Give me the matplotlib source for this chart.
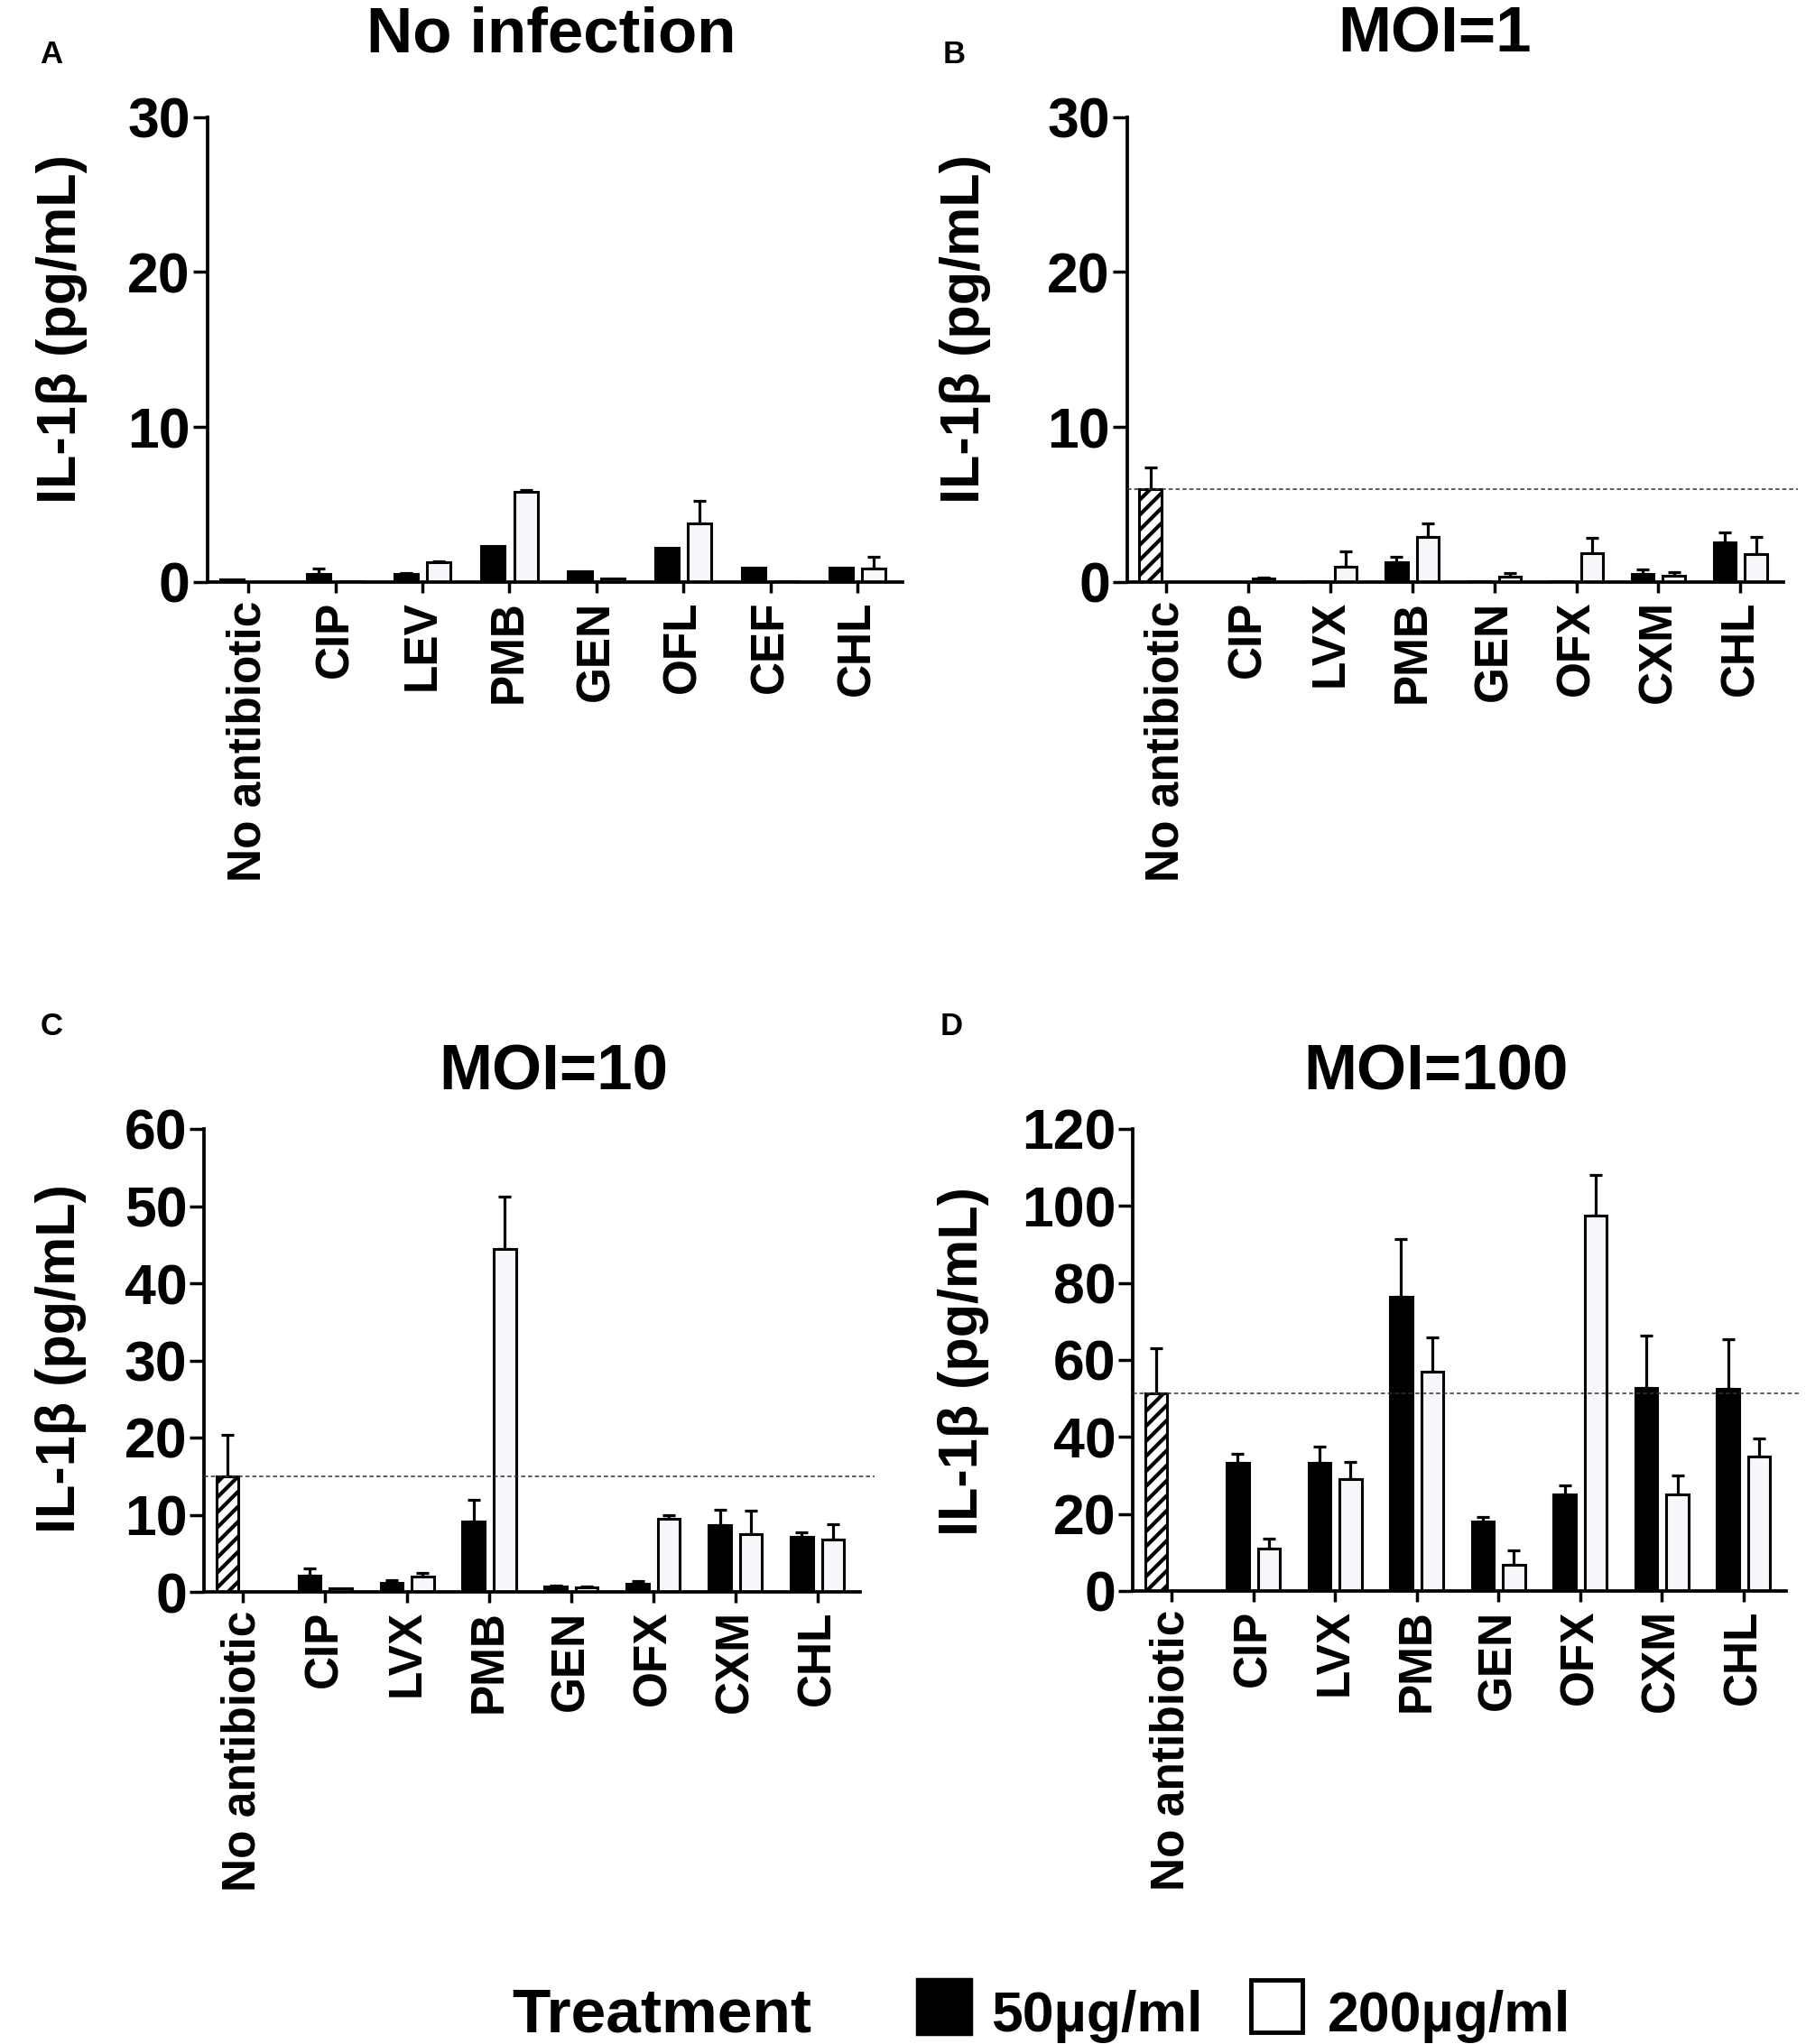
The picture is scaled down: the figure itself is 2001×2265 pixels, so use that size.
import matplotlib
matplotlib.use('Agg')
import matplotlib.pyplot as plt
import numpy as np
from matplotlib import font_manager as fm
from matplotlib.patches import Rectangle

# ---------------- data ----------------
cats_A = ['No antibiotic', 'CIP', 'LEV', 'PMB', 'GEN', 'OFL', 'CEF', 'CHL']
cats_BCD = ['No antibiotic', 'CIP', 'LVX', 'PMB', 'GEN', 'OFX', 'CXM', 'CHL']

# Panel A (no infection): all 8 groups have 50 / 200 bars
A_50 = [0.2, 0.55, 0.55, 2.3, 0.7, 2.2, 0.95, 0.95]
A_50_err = [0.0, 0.3, 0.05, 0.0, 0.0, 0.0, 0.0, 0.0]
A_200 = [0.0, 0.08, 1.3, 5.8, 0.25, 3.8, 0.08, 0.9]
A_200_err = [0.0, 0.0, 0.05, 0.12, 0.0, 1.45, 0.0, 0.75]

# Panels B-D: control (no antibiotic, hatched) + 7 antibiotics
B_ctrl, B_ctrl_err = 6.0, 1.4
B_50 = [0.0, 0.06, 1.3, 0.06, 0.06, 0.55, 2.55]
B_50_err = [0.0, 0.0, 0.35, 0.0, 0.0, 0.28, 0.63]
B_200 = [0.25, 1.0, 2.9, 0.35, 1.85, 0.4, 1.8]
B_200_err = [0.05, 0.95, 0.9, 0.25, 1.0, 0.23, 1.1]

C_ctrl, C_ctrl_err = 15.0, 5.4
C_50 = [2.1, 1.2, 9.1, 0.65, 1.05, 8.7, 7.1]
C_50_err = [0.95, 0.3, 2.8, 0.15, 0.3, 2.0, 0.6]
C_200 = [0.45, 2.0, 44.4, 0.6, 9.5, 7.5, 6.8]
C_200_err = [0.0, 0.5, 6.8, 0.1, 0.4, 3.0, 2.0]

D_ctrl, D_ctrl_err = 51.4, 11.6
D_50 = [33.2, 33.2, 76.4, 18.1, 25.0, 52.8, 52.5]
D_50_err = [2.4, 4.2, 15.1, 1.2, 2.4, 13.6, 13.0]
D_200 = [11.1, 29.0, 57.0, 6.7, 97.5, 25.1, 35.0]
D_200_err = [2.4, 4.6, 8.9, 3.8, 10.6, 4.8, 4.6]

titles = ['No infection', 'MOI=1', 'MOI=10', 'MOI=100']
letters = ['A', 'B', 'C', 'D']
ylabel = 'IL-1β (pg/mL)'
legend_title = 'Treatment'
legend_labels = ['50µg/ml', '200µg/ml']

# ---------------- style ----------------
W, H, DPI = 2001, 2265, 100
names = {f.name for f in fm.fontManager.ttflist}
MAIN = 'Liberation Sans' if 'Liberation Sans' in names else 'DejaVu Sans'
HAS_NARROW = 'Liberation Sans Narrow' in names
NARROW = 'Liberation Sans Narrow' if HAS_NARROW else MAIN

plt.rcParams['font.family'] = [MAIN, 'DejaVu Sans']
plt.rcParams['hatch.linewidth'] = 3.0
WHITE = '#F8F8FC'

fig = plt.figure(figsize=(W / DPI, H / DPI), dpi=DPI)


def add_ax(l, r, t, b):
    return fig.add_axes([l / W, 1 - b / H, (r - l) / W, (b - t) / H])


def px(x, y):
    return x / W, 1 - y / H


OFF, BW = 0.19, 0.27
ELW = 2.3


def errbars(ax, xs, vals, errs):
    xs = np.asarray(xs, float)
    vals = np.asarray(vals, float)
    errs = np.asarray(errs, float)
    m = errs > 0
    if m.any():
        ax.errorbar(xs[m], vals[m], yerr=[np.zeros(m.sum()), errs[m]], fmt='none',
                    ecolor='black', elinewidth=ELW, capsize=5, capthick=ELW, zorder=1)


def panel(ax, cats, v50, e50, v200, e200, ymax, ystep, ctrl=None, ctrl_err=None):
    x = np.arange(len(cats))
    if ctrl is not None:
        ax.bar(0 - OFF, ctrl, BW, facecolor='white', edgecolor='black', hatch='//',
               linewidth=2.2, zorder=2)
        errbars(ax, [0 - OFF], [ctrl], [ctrl_err])
        xs = x[1:]
    else:
        xs = x
    ax.bar(xs - OFF, v50, BW, color='black', edgecolor='black', linewidth=2.2, zorder=2)
    ax.bar(xs + OFF, v200, BW, facecolor=WHITE, edgecolor='black', linewidth=2.2, zorder=2)
    errbars(ax, xs - OFF, v50, e50)
    errbars(ax, xs + OFF, v200, e200)
    if ctrl is not None:
        ax.plot([-0.475, 7.7], [ctrl, ctrl], ls=(0, (3, 2)), lw=1.1, color='#333333',
                clip_on=False, zorder=5)
    ax.set_xlim(-0.475, 7.52)
    ax.set_ylim(0, ymax)
    ax.set_yticks(np.arange(0, ymax + 0.1, ystep))
    ax.set_xticks(x)
    ax.set_xticklabels(cats, rotation=90, fontsize=37, fontweight='bold', va='top', ha='center')
    for lab in ax.get_yticklabels():
        lab.set_fontsize(45)
        lab.set_fontweight('bold')
    ax.spines['top'].set_visible(False)
    ax.spines['right'].set_visible(False)
    for s in ('left', 'bottom'):
        ax.spines[s].set_linewidth(2.7)
    ax.tick_params(axis='y', direction='out', length=11.5, width=2.5, pad=2)
    ax.tick_params(axis='x', direction='out', length=8.6, width=2.5, pad=6)


axA = add_ax(229.6, 1000, 129.5, 645)
axB = add_ax(1248.7, 1975.7, 129.5, 645)
axC = add_ax(226, 953, 1251, 1764)
axD = add_ax(1255, 1979, 1251, 1763)

panel(axA, cats_A, A_50, A_50_err, A_200, A_200_err, 30, 10)
panel(axB, cats_BCD, B_50, B_50_err, B_200, B_200_err, 30, 10, B_ctrl, B_ctrl_err)
panel(axC, cats_BCD, C_50, C_50_err, C_200, C_200_err, 60, 10, C_ctrl, C_ctrl_err)
panel(axD, cats_BCD, D_50, D_50_err, D_200, D_200_err, 120, 20, D_ctrl, D_ctrl_err)

# titles
title_pos = [(611, 40), (1590, 40), (613, 1189), (1591, 1189)]
for t, (xx, yy) in zip(titles, title_pos):
    fig.text(*px(xx, yy), t, fontsize=51, fontweight='heavy', ha='center', va='center')

# panel letters
letter_pos = [(57, 60), (1057, 60), (57, 1138), (1054, 1138)]
for t, (xx, yy) in zip(letters, letter_pos):
    fig.text(*px(xx, yy), t, fontsize=25, fontweight='bold', ha='center', va='center')

# y labels
ylab_pos = [(69, 365), (1069, 365), (67, 1506), (1067, 1509)]
for xx, yy in ylab_pos:
    fig.text(*px(xx, yy), ylabel, fontsize=44, fontweight='bold', rotation=90,
             ha='center', va='center')

# legend
tfs = 60 if HAS_NARROW else 50
lfs = 56 if HAS_NARROW else 45
base = 2251
fig.text(*px(567, base), legend_title, fontsize=tfs, fontweight='bold', family=[NARROW, MAIN],
         ha='left', va='baseline')
fig.patches.append(Rectangle(px(1016, 2254), 60 / W, 61 / H, transform=fig.transFigure,
                             facecolor='black', edgecolor='black', linewidth=2.5))
fig.patches.append(Rectangle(px(1386, 2252), 57 / W, 58 / H, transform=fig.transFigure,
                             facecolor='white', edgecolor='black', linewidth=3.5))
fig.text(*px(1098, base), legend_labels[0], fontsize=lfs, fontweight='bold', family=[NARROW, MAIN],
         ha='left', va='baseline')
fig.text(*px(1471, base), legend_labels[1], fontsize=lfs, fontweight='bold', family=[NARROW, MAIN],
         ha='left', va='baseline')

fig.savefig('out.png', dpi=DPI)
